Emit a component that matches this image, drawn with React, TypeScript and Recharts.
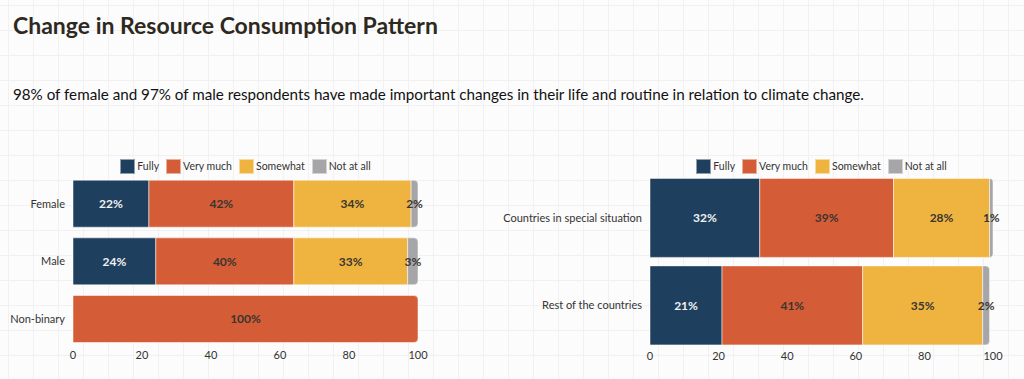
import React from 'react';
import { BarChart, Bar, XAxis, YAxis, Legend, LabelList } from 'recharts';

const genderCategories = ['Female', 'Male', 'Non-binary'];
const genderFully = [22, 24, 0];
const genderVeryMuch = [42, 40, 100];
const genderSomewhat = [34, 33, 0];
const genderNotAtAll = [2, 3, 0];

const countryCategories = ['Countries in special situation', 'Rest of the countries'];
const countryFully = [32, 21];
const countryVeryMuch = [39, 41];
const countrySomewhat = [28, 35];
const countryNotAtAll = [1, 2];

const xTicks = [0, 20, 40, 60, 80, 100];

const SERIES = [
  { key: 'fully', name: 'Fully', color: '#1f3f5e', label: '#f2f2f2' },
  { key: 'veryMuch', name: 'Very much', color: '#d45d37', label: '#3a3530' },
  { key: 'somewhat', name: 'Somewhat', color: '#efb440', label: '#3a3530' },
  { key: 'notAtAll', name: 'Not at all', color: '#a6a6a9', label: '#3a3530' },
];

const FONT = 'Lato, "Open Sans", sans-serif';
const LEGEND_H = 16;

function buildRows(cats: string[], f: number[], v: number[], s: number[], n: number[]) {
  return cats.map((c, i) => ({ name: c, fully: f[i], veryMuch: v[i], somewhat: s[i], notAtAll: n[i] }));
}

const genderData = buildRows(genderCategories, genderFully, genderVeryMuch, genderSomewhat, genderNotAtAll);
const countryData = buildRows(countryCategories, countryFully, countryVeryMuch, countrySomewhat, countryNotAtAll);

// rounds the right end of the last non-zero segment in a row
const Segment = (props: any) => {
  const { x, y, width, height, fill, payload, segKey } = props;
  if (!width || width <= 0) return null;
  const nonZero = SERIES.filter((s) => payload[s.key] > 0).map((s) => s.key);
  const isLast = nonZero[nonZero.length - 1] === segKey;
  const r = isLast ? Math.min(4, width) : 0;
  const d = `M${x},${y} L${x + width - r},${y} Q${x + width},${y} ${x + width},${y + r} L${x + width},${y + height - r} Q${x + width},${y + height} ${x + width - r},${y + height} L${x},${y + height} Z`;
  return <path d={d} fill={fill} stroke="#ffffff" strokeOpacity={0.5} strokeWidth={1} />;
};

const ValueLabel = (color: string) => (props: any) => {
  const { x, y, width, height, value } = props;
  if (!value) return null;
  return (
    <text x={x + width / 2} y={y + height / 2} dy="0.35em" textAnchor="middle" fill={color} fontSize={12} fontWeight={700} fontFamily={FONT}>
      {`${value}%`}
    </text>
  );
};

// plain tick so long category names stay on one line
const CategoryTick = (props: any) => {
  const { x, y, payload } = props;
  return (
    <text x={x} y={y} dy="0.35em" textAnchor="end" fill="#333" fontSize={11} fontFamily={FONT}>
      {payload.value}
    </text>
  );
};

const LegendContent = () => (
  <div style={{ height: LEGEND_H, display: 'flex', justifyContent: 'center', alignItems: 'center', gap: 7, fontFamily: FONT, fontSize: 10.5, color: '#333' }}>
    {SERIES.map((s) => (
      <div key={s.key} style={{ display: 'flex', alignItems: 'center', gap: 2 }}>
        <span style={{ display: 'inline-block', width: 13, height: 13, background: s.color, border: '1px solid rgba(255,255,255,0.5)' }} />
        <span>{s.name}</span>
      </div>
    ))}
  </div>
);

function StackChart({ data, width, height, yWidth, marginLeft, marginRight, marginTop, gap }: any) {
  const plotLeft = marginLeft + yWidth;
  const plotWidth = width - plotLeft - marginRight;
  return (
    <BarChart
      width={width}
      height={height}
      data={data}
      layout="vertical"
      margin={{ top: marginTop, right: marginRight, bottom: 0, left: marginLeft }}
      barCategoryGap={gap}
    >
      <XAxis
        type="number"
        domain={[0, 100]}
        ticks={xTicks}
        axisLine={false}
        tickLine={false}
        tickSize={0}
        tickMargin={3}
        height={22}
        tick={{ fill: '#333', fontSize: 11, fontFamily: FONT }}
      />
      <YAxis
        type="category"
        dataKey="name"
        width={yWidth}
        axisLine={false}
        tickLine={false}
        tick={<CategoryTick />}
      />
      <Legend
        verticalAlign="top"
        height={LEGEND_H}
        content={<LegendContent />}
        wrapperStyle={{ top: 8, left: plotLeft, width: plotWidth, height: LEGEND_H }}
      />
      {SERIES.map((s) => (
        <Bar
          key={s.key}
          dataKey={s.key}
          name={s.name}
          stackId="a"
          fill={s.color}
          isAnimationActive={false}
          shape={(p: any) => <Segment {...p} segKey={s.key} />}
        >
          <LabelList dataKey={s.key} content={ValueLabel(s.label)} />
        </Bar>
      ))}
    </BarChart>
  );
}

export default function App() {
  return (
    <div
      style={{
        position: 'absolute',
        left: 0,
        top: 0,
        width: 1024,
        height: 379,
        overflow: 'hidden',
        backgroundColor: '#fcfcfc',
        backgroundImage:
          'linear-gradient(to right, #f1f1f1 1px, transparent 1px), linear-gradient(to bottom, #f1f1f1 1px, transparent 1px)',
        backgroundSize: '25px 25px',
        backgroundPosition: '8px 5px',
        fontFamily: FONT,
      }}
    >
      <div style={{ position: 'absolute', left: 13, top: 11, fontSize: 23, fontWeight: 700, color: '#2e291e', whiteSpace: 'nowrap' }}>
        Change in Resource Consumption Pattern
      </div>
      <div style={{ position: 'absolute', left: 13, top: 85, fontSize: 15.2, color: '#111', whiteSpace: 'nowrap' }}>
        98% of female and 97% of male respondents have made important changes in their life and routine in relation to climate change.
      </div>
      <div style={{ position: 'absolute', left: 0, top: 150 }}>
        <StackChart data={genderData} width={440} height={220} yWidth={65} marginLeft={8} marginRight={22} marginTop={9} gap="9%" />
      </div>
      <div style={{ position: 'absolute', left: 500, top: 150 }}>
        <StackChart data={countryData} width={524} height={221} yWidth={140} marginLeft={10} marginRight={31} marginTop={8} gap="5%" />
      </div>
    </div>
  );
}
